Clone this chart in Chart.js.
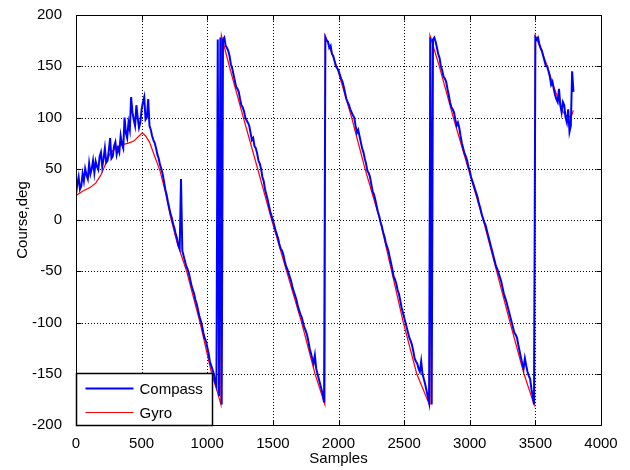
<!DOCTYPE html>
<html>
<head>
<meta charset="utf-8">
<script src="https://cdn.jsdelivr.net/npm/chart.js@4"></script>
<style>
  html, body { margin: 0; padding: 0; background: #fff; }
  canvas { display: block; }
</style>
</head>
<body>
<canvas id="courseChart" width="630" height="470"></canvas>
<script>
// compass heading, one reading every 10 samples (0 .. 3790)
const compassStep = 10;
const compassValues = [
  25, 35, 42, 30, 33, 45, 38, 50, 44, 40,
  55, 45, 50, 58, 46, 57, 52, 49, 62, 66,
  52, 60, 70, 56, 58, 68, 80, 60, 62, 72,
  76, 64, 70, 66, 82, 74, 70, 100, 85, 80,
  95, 88, 120, 105, 98, 92, 112, 100, 90, 95,
  108, 115, 120, 98, 100, 118, 92, 88, 82, 78,
  75, 70, 64, 60, 54, 50, 45, 38, 30, 25,
  18, 12, 6, 2, -4, -8, -14, -18, -25, -28,
  40, -30, -35, -40, -45, -48, -52, -58, -64, -68,
  -72, -78, -82, -88, -94, -98, -103, -110, -115, -118,
  -124, -130, -138, -142, -146, -150, -158, -162, 176, -172,
  178, -180, 176, 178, 170, 168, 165, 160, 152, 148,
  142, 136, 130, 128, 125, 118, 112, 110, 106, 100,
  97, 95, 92, 85, 78, 80, 72, 70, 65, 58,
  55, 50, 42, 38, 30, 25, 20, 14, 8, 4,
  0, -5, -10, -14, -18, -24, -28, -30, -34, -40,
  -45, -48, -52, -56, -60, -66, -70, -74, -78, -84,
  -88, -92, -95, -100, -105, -108, -112, -118, -125, -130,
  -135, -140, -132, -145, -150, -155, -160, -165, -170, -178,
  178, 175, 174, 168, 170, 162, 160, 155, 150, 148,
  146, 142, 138, 135, 130, 124, 118, 115, 112, 108,
  105, 102, 100, 92, 85, 88, 82, 76, 70, 66,
  60, 55, 48, 46, 42, 35, 28, 25, 20, 14,
  8, 4, -2, -6, -12, -16, -22, -26, -30, -36,
  -42, -48, -55, -58, -62, -68, -72, -78, -85, -90,
  -95, -100, -105, -110, -115, -118, -122, -128, -135, -138,
  -140, -145, -148, -138, -150, -155, -160, -166, -172, -178,
  178, -180, 176, 178, 174, 168, 162, 158, 150, 146,
  140, 138, 135, 128, 122, 115, 110, 108, 105, 98,
  92, 95, 90, 82, 75, 70, 65, 62, 58, 52,
  48, 42, 38, 34, 30, 26, 22, 16, 12, 6,
  2, -2, -5, -10, -15, -20, -25, -30, -35, -40,
  -45, -48, -52, -56, -60, -66, -72, -76, -80, -85,
  -90, -95, -100, -105, -110, -112, -115, -122, -128, -134,
  -140, -145, -135, -142, -148, -152, -155, -165, -172, -180,
  178, 176, 178, 172, 168, 165, 160, 155, 150, 150,
  145, 140, 132, 135, 128, 122, 118, 115, 128, 112,
  105, 115, 112, 100, 95, 108, 86, 92, 145, 125
];

// gyro heading, read at the turning points of the red curve
const gyroSamples = [
  0, 50, 110, 150, 190, 230, 260, 300, 340, 400, 440, 480, 505, 530, 560, 600,
  640, 680, 720, 770, 843, 945, 1034, 1075, 1104,
  1108, 1168, 1275, 1384, 1491, 1605, 1719, 1821, 1896,
  1899, 1986, 2100, 2202, 2316, 2405, 2494, 2596, 2692,
  2697, 2768, 2875, 2989, 3103, 3205, 3307, 3413, 3490,
  3500, 3586, 3637, 3675, 3713, 3751, 3777, 3789
];
const gyroValues = [
  24, 28, 32, 36, 44, 56, 65, 70, 73, 75, 77, 82, 85, 82, 76, 62,
  48, 28, 3, -22, -50, -100, -150, -167, -180,
  180, 150, 100, 50, 0, -50, -100, -150, -180,
  180, 150, 100, 50, 0, -50, -100, -150, -180,
  180, 150, 100, 50, 0, -50, -100, -150, -180,
  180, 152, 131, 118, 105, 100, 102, 107
];

const seriesNames = ["Compass", "Gyro"];
const seriesColors = ["#0000ff", "#ff0000"];

const xTicks = { min: 0, max: 4000, step: 500 };
const yTicks = { min: -200, max: 200, step: 50 };

const fontFamily = "'Liberation Sans', Arial, sans-serif";

const compassPoints = compassValues.map((v, i) => ({ x: i * compassStep, y: v }));
const gyroPoints = gyroSamples.map((s, i) => ({ x: s, y: gyroValues[i] }));

// dotted grid under the lines; box, inward ticks and legend on top
const matlabFrame = {
  id: "matlabFrame",
  beforeDatasetsDraw(chart) {
    const { ctx, chartArea: a, scales } = chart;
    ctx.save();
    ctx.strokeStyle = "#000";
    ctx.lineWidth = 1;
    ctx.setLineDash([1, 2]);
    ctx.beginPath();
    scales.x.ticks.forEach(t => {
      if (t.value === xTicks.min || t.value === xTicks.max) return;
      const px = Math.round(scales.x.getPixelForValue(t.value)) + 0.5;
      ctx.moveTo(px, a.top); ctx.lineTo(px, a.bottom);
    });
    scales.y.ticks.forEach(t => {
      if (t.value === yTicks.min || t.value === yTicks.max) return;
      const py = Math.round(scales.y.getPixelForValue(t.value)) + 0.5;
      ctx.moveTo(a.left, py); ctx.lineTo(a.right, py);
    });
    ctx.stroke();
    ctx.restore();
  },
  afterDraw(chart) {
    const { ctx, chartArea: a, scales } = chart;
    const L = Math.round(a.left) + 0.5, R = Math.round(a.right) + 0.5;
    const T = Math.round(a.top) + 0.5, B = Math.round(a.bottom) + 0.5;
    ctx.save();
    ctx.strokeStyle = "#000";
    ctx.lineWidth = 1;
    ctx.beginPath();
    scales.x.ticks.forEach(t => {
      const px = Math.round(scales.x.getPixelForValue(t.value)) + 0.5;
      ctx.moveTo(px, B); ctx.lineTo(px, B - 5);
      ctx.moveTo(px, T); ctx.lineTo(px, T + 5);
    });
    scales.y.ticks.forEach(t => {
      const py = Math.round(scales.y.getPixelForValue(t.value)) + 0.5;
      ctx.moveTo(L, py); ctx.lineTo(L + 5, py);
      ctx.moveTo(R, py); ctx.lineTo(R - 5, py);
    });
    ctx.stroke();

    // legend
    const lw = 136, lh = 52;
    ctx.fillStyle = "#fff";
    ctx.fillRect(L, B - lh, lw, lh);
    ctx.lineWidth = 1.5;
    ctx.strokeRect(L, B - lh, lw, lh);
    ctx.font = "15px " + fontFamily;
    ctx.textBaseline = "middle";
    seriesNames.forEach((name, i) => {
      const y = Math.round(B - lh + 14 + i * 24) + 0.5;
      ctx.strokeStyle = seriesColors[i];
      ctx.lineWidth = i === 0 ? 2 : 1;
      ctx.beginPath();
      ctx.moveTo(L + 9, y); ctx.lineTo(L + 57, y);
      ctx.stroke();
      ctx.fillStyle = "#000";
      ctx.fillText(name, L + 63, y + 1);
    });

    ctx.lineWidth = 1;
    ctx.strokeStyle = "#000";
    ctx.strokeRect(L, T, R - L, B - T);
    ctx.restore();
  }
};

new Chart(document.getElementById("courseChart"), {
  type: "scatter",
  data: {
    datasets: [
      {
        label: seriesNames[0],
        data: compassPoints,
        showLine: true,
        borderColor: seriesColors[0],
        borderWidth: 2,
        pointRadius: 0,
        tension: 0,
      },
      {
        label: seriesNames[1],
        data: gyroPoints,
        showLine: true,
        borderColor: seriesColors[1],
        borderWidth: 1.2,
        pointRadius: 0,
        tension: 0,
      },
    ],
  },
  options: {
    responsive: false,
    animation: false,
    layout: { padding: { top: 14, right: 29, left: 0, bottom: 0 } },
    plugins: {
      legend: { display: false },
      tooltip: { enabled: false },
    },
    scales: {
      x: {
        type: "linear",
        min: xTicks.min,
        max: xTicks.max,
        afterFit: (scale) => { scale.height = 45; },
        ticks: {
          stepSize: xTicks.step,
          autoSkip: false,
          maxRotation: 0,
          padding: 2,
          color: "#000",
          font: { family: fontFamily, size: 15 },
          callback: (v) => String(v),
        },
        grid: { display: false },
        border: { display: false },
        title: {
          display: true,
          text: "Samples",
          color: "#000",
          font: { family: fontFamily, size: 15 },
          padding: { top: 0, bottom: 2 },
        },
      },
      y: {
        min: yTicks.min,
        max: yTicks.max,
        afterFit: (scale) => { scale.width = 76; },
        ticks: {
          stepSize: yTicks.step,
          padding: 6,
          color: "#000",
          font: { family: fontFamily, size: 15 },
          callback: (v) => String(v),
        },
        grid: { display: false },
        border: { display: false },
        title: {
          display: true,
          text: "Course,deg",
          color: "#000",
          font: { family: fontFamily, size: 15 },
          padding: { top: 14, bottom: 0 },
        },
      },
    },
  },
  plugins: [matlabFrame],
});
</script>
</body>
</html>
